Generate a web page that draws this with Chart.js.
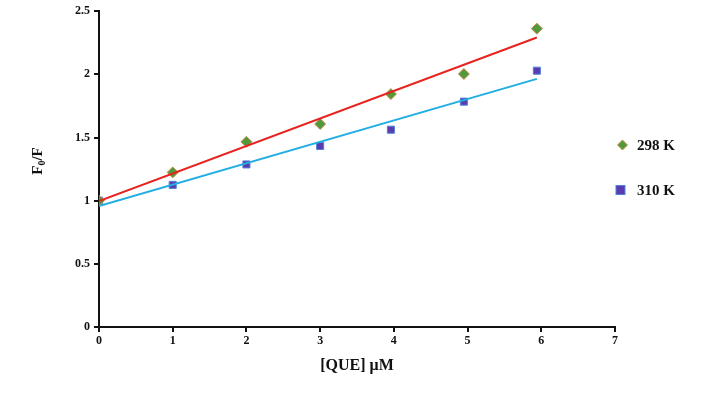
<!DOCTYPE html>
<html><head><meta charset="utf-8">
<script src="https://cdn.jsdelivr.net/npm/chart.js@4/dist/chart.umd.min.js"></script>
<style>html,body{margin:0;padding:0;background:#fff}#wrap{width:702px;height:399px}</style>
</head><body><div id="wrap"><canvas id="c" width="702" height="399"></canvas></div>
<script>
const concX = [0, 1, 2, 3, 3.96, 4.95, 5.94];
const k298 = [1.0, 1.224, 1.466, 1.607, 1.844, 2.003, 2.362];
const k310 = [1.0, 1.125, 1.287, 1.433, 1.562, 1.784, 2.029];
const fitX = [0, 5.94];
const fit298 = [0.997, 2.292];
const fit310 = [0.958, 1.964];
const seriesNames = ['298 K', '310 K'];
const xTicks = [0, 1, 2, 3, 4, 5, 6, 7];
const yTicks = [0, 0.5, 1, 1.5, 2, 2.5];

const pts = (xs, ys) => xs.map((x, i) => ({x, y: ys[i]}));
const FONT = '"Liberation Serif", "Times New Roman", serif';

const legendPlugin = {
  id: 'customLegend',
  afterDraw(chart) {
    const ctx = chart.ctx;
    ctx.save();
    const items = [
      {ds: chart.data.datasets[2], y: 145, tx: 637},
      {ds: chart.data.datasets[3], y: 190, tx: 637}
    ];
    items.forEach((it, i) => {
      const ds = it.ds;
      ctx.fillStyle = ds.backgroundColor;
      ctx.strokeStyle = ds.borderColor;
      ctx.lineWidth = 1;
      if (ds.pointStyle === 'rectRot') {
        const cx = 622.5, r = 5;
        ctx.beginPath();
        ctx.moveTo(cx, it.y - r); ctx.lineTo(cx + r, it.y); ctx.lineTo(cx, it.y + r); ctx.lineTo(cx - r, it.y); ctx.closePath();
        ctx.fill(); ctx.stroke();
      } else {
        const cx = 620.5, h = 4.5;
        ctx.fillRect(cx - h, it.y - h, 2 * h, 2 * h);
        ctx.strokeRect(cx - h, it.y - h, 2 * h, 2 * h);
      }
      ctx.fillStyle = '#111';
      ctx.font = 'bold 15px ' + FONT;
      ctx.textBaseline = 'middle';
      ctx.textAlign = 'left';
      ctx.fillText(seriesNames[i], it.tx, it.y + 1);
    });
    // y axis title F0/F with subscript
    ctx.translate(37, 161);
    ctx.rotate(-Math.PI / 2);
    ctx.fillStyle = '#111';
    ctx.textBaseline = 'alphabetic';
    ctx.textAlign = 'left';
    ctx.font = 'bold 15px ' + FONT;
    const w1 = ctx.measureText('F').width;
    ctx.font = 'bold 10px ' + FONT;
    const w2 = ctx.measureText('0').width;
    ctx.font = 'bold 15px ' + FONT;
    const w3 = ctx.measureText('/F').width;
    const total = w1 + w2 + w3;
    let x0 = -total / 2;
    const base = 5;
    ctx.fillText('F', x0, base);
    ctx.font = 'bold 10px ' + FONT;
    ctx.fillText('0', x0 + w1, base + 3);
    ctx.font = 'bold 15px ' + FONT;
    ctx.fillText('/F', x0 + w1 + w2, base);
    ctx.restore();
  }
};

new Chart(document.getElementById('c'), {
  type: 'scatter',
  data: {
    datasets: [
      {label: 'fit 298', type: 'line', data: pts(fitX, fit298), borderColor: '#e8231f', borderWidth: 2, pointRadius: 0, fill: false, showLine: true},
      {label: 'fit 310', type: 'line', data: pts(fitX, fit310), borderColor: '#21aee2', borderWidth: 2, pointRadius: 0, fill: false, showLine: true},
      {label: seriesNames[0], data: pts(concX, k298), pointStyle: 'rectRot', pointRadius: 5.5, backgroundColor: '#4f9a3b', borderColor: '#d08a4e', borderWidth: 1},
      {label: seriesNames[1], data: pts(concX, k310), pointStyle: 'rect', pointRadius: 5, backgroundColor: '#5a3cb0', borderColor: '#4f82dc', borderWidth: 1}
    ]
  },
  options: {
    responsive: false,
    animation: false,
    layout: {padding: {left: 0, right: 87, top: 7, bottom: 0}},
    plugins: {legend: {display: false}, tooltip: {enabled: false}},
    scales: {
      x: {
        type: 'linear', min: 0, max: 7,
        afterFit(s) { s.height = 72; },
        afterBuildTicks(s) { s.ticks = xTicks.map(v => ({value: v})); },
        border: {color: '#111', width: 2},
        grid: {drawOnChartArea: false, color: '#111', tickLength: 5, lineWidth: 2},
        ticks: {color: '#111', font: {family: FONT, weight: 'bold', size: 12}, padding: 2, maxRotation: 0, callback: v => String(v)},
        title: {display: true, text: '[QUE] μM', color: '#111', font: {family: FONT, weight: 'bold', size: 16}, padding: {top: 0, bottom: 24}}
      },
      y: {
        type: 'linear', min: 0, max: 2.5,
        afterFit(s) { s.width = 99; },
        afterBuildTicks(s) { s.ticks = yTicks.map(v => ({value: v})); },
        border: {color: '#111', width: 2},
        grid: {drawOnChartArea: false, color: '#111', tickLength: 5, lineWidth: 2},
        ticks: {color: '#111', font: {family: FONT, weight: 'bold', size: 12}, padding: 4, callback: v => String(v)}
      }
    }
  },
  plugins: [legendPlugin]
});
</script>
</body></html>
